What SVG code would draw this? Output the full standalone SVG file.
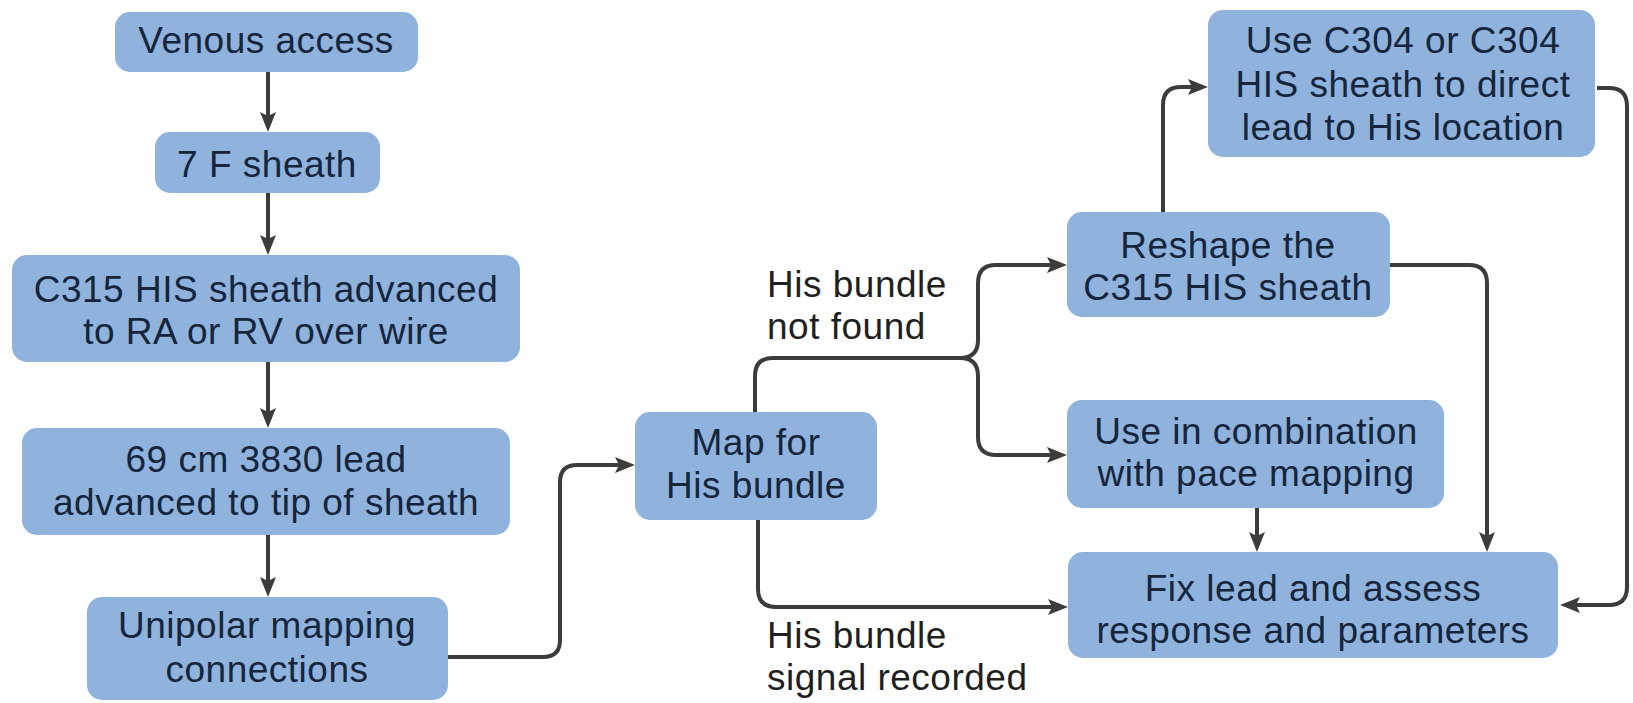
<svg xmlns="http://www.w3.org/2000/svg" width="1633" height="703" viewBox="0 0 1633 703">
  <style>
    .box { fill: #8fb3dc; }
    .node text { font-family: "Liberation Sans", Arial, sans-serif; font-size: 37px; letter-spacing: 0.5px; fill: #15253c; text-anchor: middle; }
    .label { font-family: "Liberation Sans", Arial, sans-serif; font-size: 37px; letter-spacing: 0.5px; fill: #1f1f1f; }
    .conn { fill: none; stroke: #3c3c3c; stroke-width: 4; stroke-linejoin: round; marker-end: url(#arrow); }
  </style>
  <defs>
    <marker id="arrow" viewBox="0 0 20 16" refX="12" refY="8" markerWidth="20" markerHeight="16" markerUnits="userSpaceOnUse" orient="auto">
      <path d="M0,0 L20,8 L0,16 L4,8 Z" fill="#3c3c3c"/>
    </marker>
  </defs>

  <rect width="1633" height="703" fill="#ffffff"/>

  <!-- connectors -->
  <g id="connectors">
    <path class="conn" d="M268,72 V124"/>
    <path class="conn" d="M268,193 V247"/>
    <path class="conn" d="M268,362 V420"/>
    <path class="conn" d="M268,535 V589"/>
    <path class="conn" d="M448,657 H543 Q560,657 560,640 V482 Q560,465 577,465 H627"/>
    <path class="conn" d="M755,412 V376 Q755,358 773,358 H960 Q978,358 978,340 V283 Q978,265 996,265 H1059"/>
    <path class="conn" d="M960,358 Q978,358 978,376 V437 Q978,455 996,455 H1059"/>
    <path class="conn" d="M758,520 V589 Q758,607 776,607 H1060"/>
    <path class="conn" d="M1163,212 V105 Q1163,87 1181,87 H1200"/>
    <path class="conn" d="M1597,88 H1609 Q1627,88 1627,106 V587 Q1627,605 1609,605 H1568"/>
    <path class="conn" d="M1390,265 H1469 Q1487,265 1487,283 V544"/>
    <path class="conn" d="M1257,508 V544"/>
  </g>

  <!-- left column -->
  <g id="venous-access" class="node">
    <rect class="box" x="115" y="12" width="303" height="60" rx="15"/>
    <text x="266" y="53">Venous access</text>
  </g>
  <g id="sheath-7f" class="node">
    <rect class="box" x="155" y="132" width="225" height="61" rx="15"/>
    <text x="267" y="177">7 F sheath</text>
  </g>
  <g id="c315-advanced" class="node">
    <rect class="box" x="12" y="255" width="508" height="107" rx="15"/>
    <text x="266" y="302">C315 HIS sheath advanced</text>
    <text x="266" y="344">to RA or RV over wire</text>
  </g>
  <g id="lead-3830" class="node">
    <rect class="box" x="22" y="428" width="488" height="107" rx="15"/>
    <text x="266" y="472">69 cm 3830 lead</text>
    <text x="266" y="515">advanced to tip of sheath</text>
  </g>
  <g id="unipolar-mapping" class="node">
    <rect class="box" x="87" y="597" width="361" height="103" rx="15"/>
    <text x="267" y="638">Unipolar mapping</text>
    <text x="267" y="682">connections</text>
  </g>

  <!-- mapping -->
  <g id="map-his" class="node">
    <rect class="box" x="635" y="412" width="242" height="108" rx="15"/>
    <text x="756" y="455">Map for</text>
    <text x="756" y="498">His bundle</text>
  </g>

  <!-- branch labels -->
  <g id="labels">
    <text class="label" x="767" y="297">His bundle</text>
    <text class="label" x="767" y="339">not found</text>
    <text class="label" x="767" y="648">His bundle</text>
    <text class="label" x="767" y="690">signal recorded</text>
  </g>

  <!-- right side -->
  <g id="use-c304" class="node">
    <rect class="box" x="1208" y="10" width="387" height="147" rx="15"/>
    <text x="1403" y="53">Use C304 or C304</text>
    <text x="1403" y="97">HIS sheath to direct</text>
    <text x="1403" y="140">lead to His location</text>
  </g>
  <g id="reshape-c315" class="node">
    <rect class="box" x="1067" y="212" width="323" height="105" rx="15"/>
    <text x="1228" y="258">Reshape the</text>
    <text x="1228" y="300">C315 HIS sheath</text>
  </g>
  <g id="pace-mapping" class="node">
    <rect class="box" x="1067" y="400" width="377" height="108" rx="15"/>
    <text x="1256" y="444">Use in combination</text>
    <text x="1256" y="486">with pace mapping</text>
  </g>
  <g id="fix-lead" class="node">
    <rect class="box" x="1068" y="552" width="490" height="106" rx="15"/>
    <text x="1313" y="601">Fix lead and assess</text>
    <text x="1313" y="643">response and parameters</text>
  </g>
</svg>
